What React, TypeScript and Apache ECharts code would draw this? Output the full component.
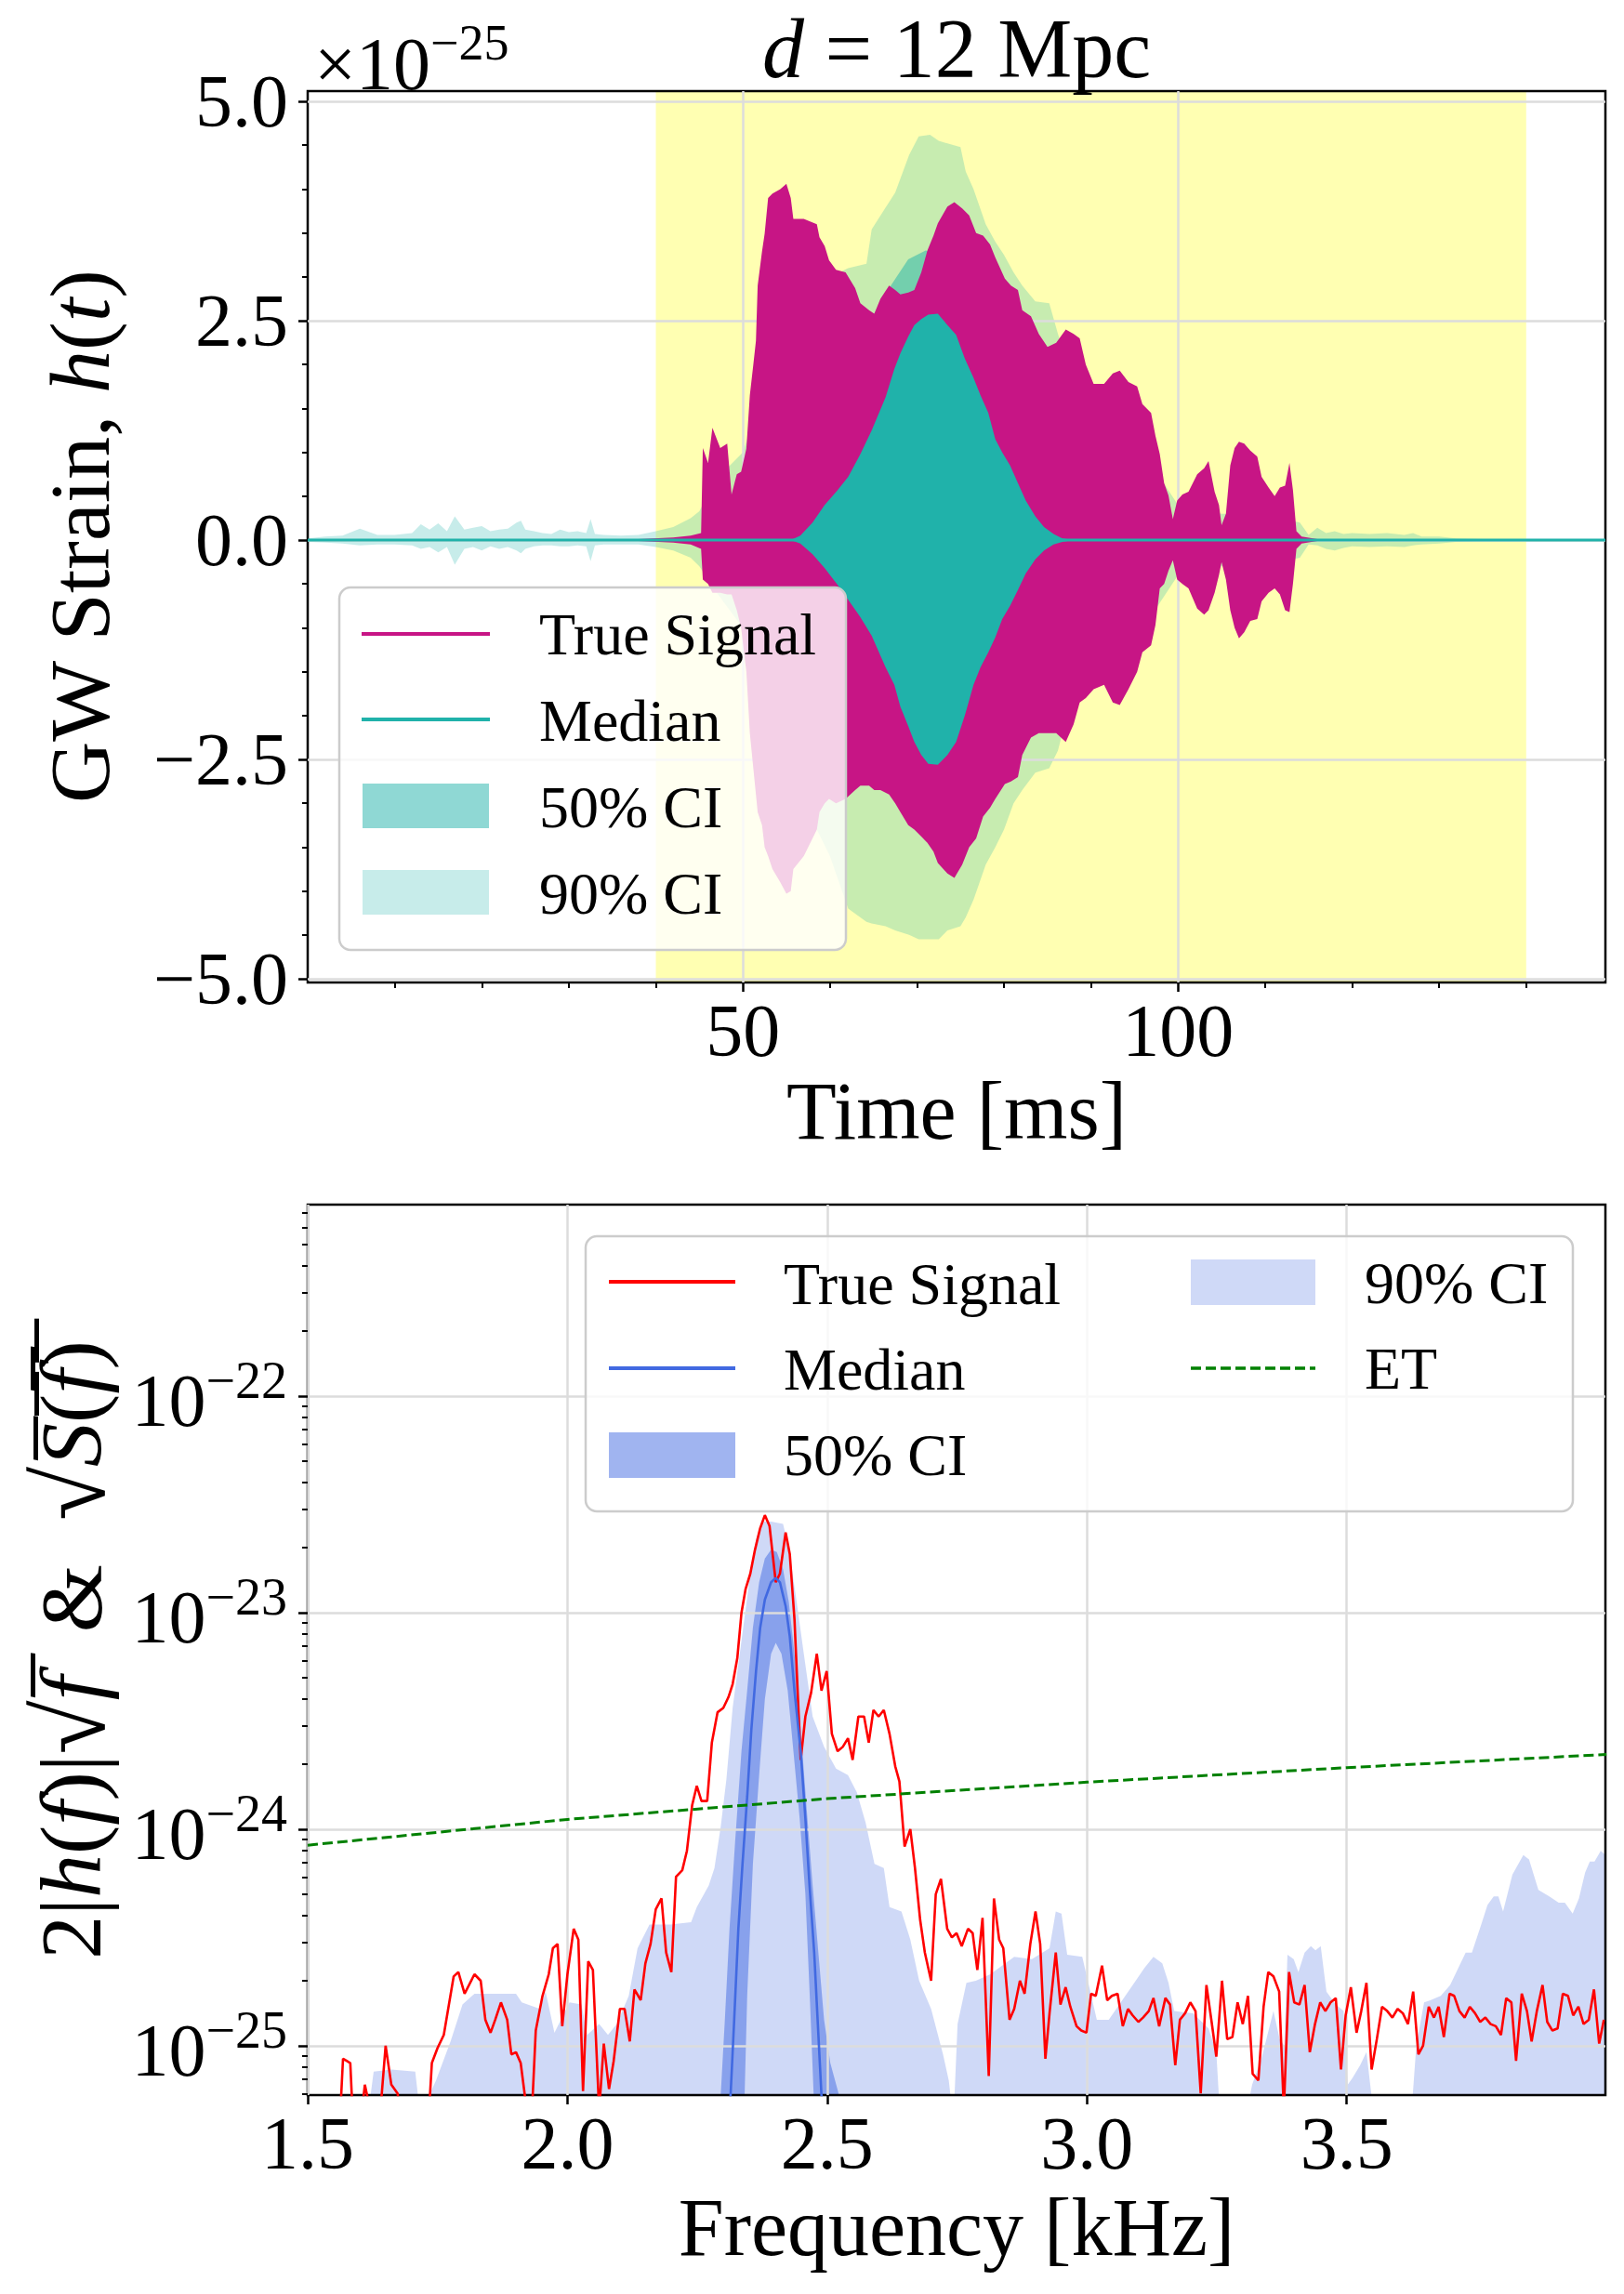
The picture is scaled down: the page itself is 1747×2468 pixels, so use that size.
import React, { useEffect, useRef } from 'react';
import * as echarts from 'echarts';

// ================= TOP PANEL: GW strain h(t), units of 1e-25 =================
const T_RANGE = [0, 149.1];
const STRAIN_RANGE = [-5.042, 5.117];
const T_TICKS = [50, 100];
const T_MINOR = [10, 20, 30, 40, 60, 70, 80, 90, 110, 120, 130, 140];
const H_TICKS = [-5, -2.5, 0, 2.5, 5];
const H_MINOR = [-4.5, -4, -3.5, -3, -2, -1.5, -1, -0.5, 0.5, 1, 1.5, 2, 3, 3.5, 4, 4.5];
const HIGHLIGHT_SPAN = [40, 140];

// [time ms, upper envelope, lower envelope]
const TRUE_SIGNAL_ENV = [
  [38, 0.01, -0.01], [42, 0.03, -0.03], [44, 0.05, -0.05], [45.2, 0.08, -0.1],
  [45.4, 1.05, -0.45], [46.0, 0.88, -0.5], [46.5, 1.28, -0.6], [47.4, 1.05, -0.6],
  [48.2, 1.1, -0.62], [48.7, 0.52, -0.62], [49.3, 0.75, -0.8], [49.8, 0.78, -1.0],
  [50.4, 1.04, -1.5], [50.8, 1.65, -2.2], [51.2, 2.0, -2.6], [51.5, 2.27, -2.9],
  [51.7, 2.9, -3.1], [52.2, 3.29, -3.25], [52.5, 3.49, -3.5], [52.9, 3.9, -3.6],
  [53.4, 3.95, -3.75], [54.3, 4.0, -3.9], [55.0, 4.06, -4.03], [55.5, 3.9, -4.0],
  [55.8, 3.66, -3.75], [57.0, 3.66, -3.6], [58.5, 3.6, -3.3], [58.8, 3.45, -3.1],
  [59.4, 3.35, -3.0], [59.9, 3.19, -2.95], [60.7, 3.08, -3.0], [61.8, 3.05, -2.95],
  [62.9, 2.87, -2.85], [63.5, 2.7, -2.8], [64.5, 2.62, -2.8], [65.1, 2.58, -2.85],
  [65.8, 2.75, -2.85], [66.8, 2.9, -2.9], [67.5, 2.85, -3.0], [68.1, 2.8, -3.1],
  [69.0, 2.82, -3.25], [69.7, 2.85, -3.3], [70.5, 3.05, -3.38], [71.2, 3.3, -3.45],
  [71.9, 3.47, -3.55], [72.4, 3.61, -3.68], [73.5, 3.8, -3.8], [74.3, 3.85, -3.85],
  [75.2, 3.78, -3.7], [76.0, 3.7, -3.5], [76.8, 3.5, -3.4], [77.6, 3.47, -3.15],
  [78.4, 3.37, -3.05], [79.0, 3.22, -2.95], [80.1, 2.98, -2.78], [80.8, 2.9, -2.75],
  [81.6, 2.85, -2.7], [82.1, 2.62, -2.45], [83.1, 2.55, -2.25], [84.0, 2.35, -2.2],
  [85.0, 2.2, -2.2], [86.0, 2.25, -2.2], [87.1, 2.4, -2.3], [88.0, 2.35, -2.1],
  [88.7, 2.3, -1.85], [89.4, 2.0, -1.8], [90.3, 1.78, -1.7], [91.5, 1.78, -1.65],
  [92.5, 1.9, -1.85], [93.3, 1.93, -1.88], [94.3, 1.8, -1.7], [95.3, 1.75, -1.5],
  [95.9, 1.55, -1.28], [96.9, 1.45, -1.2], [97.4, 1.19, -0.97], [97.9, 0.98, -0.55],
  [98.4, 0.65, -0.5], [98.9, 0.51, -0.35], [99.4, 0.24, -0.23], [99.9, 0.45, -0.45],
  [100.5, 0.52, -0.5], [101.2, 0.55, -0.55], [102.2, 0.75, -0.78], [103.0, 0.82, -0.85],
  [103.5, 0.9, -0.8], [104.2, 0.55, -0.6], [104.7, 0.4, -0.4], [105.0, 0.17, -0.25],
  [105.5, 0.3, -0.45], [106.0, 0.85, -0.8], [106.5, 1.05, -1.0], [107.0, 1.12, -1.12],
  [107.6, 1.1, -1.05], [108.3, 1.02, -0.92], [109.1, 0.95, -0.9], [109.6, 0.72, -0.7],
  [110.4, 0.6, -0.6], [111.1, 0.5, -0.55], [111.7, 0.6, -0.62], [112.3, 0.62, -0.8],
  [112.8, 0.88, -0.82], [113.2, 0.57, -0.5], [113.6, 0.1, -0.1], [114.2, 0.04, -0.04],
  [116, 0.01, -0.01],
];

const MEDIAN_ENV = [
  [55.5, 0, 0], [56.6, 0.05, -0.04], [58.0, 0.2, -0.16], [59.4, 0.4, -0.32],
  [60.8, 0.56, -0.5], [62.1, 0.72, -0.68], [63.5, 0.98, -0.88], [64.8, 1.25, -1.09],
  [66.4, 1.63, -1.45], [67.4, 1.95, -1.65], [68.1, 2.13, -1.9], [69.0, 2.32, -2.12],
  [69.7, 2.45, -2.3], [70.5, 2.52, -2.45], [71.3, 2.57, -2.55], [72.4, 2.58, -2.56],
  [73.5, 2.45, -2.45], [74.5, 2.34, -2.3], [75.5, 2.07, -2.0], [76.5, 1.85, -1.65],
  [77.3, 1.65, -1.45], [78.2, 1.45, -1.28], [79.0, 1.15, -1.11], [79.8, 1.0, -0.9],
  [80.7, 0.85, -0.75], [81.6, 0.65, -0.57], [82.5, 0.45, -0.38], [83.6, 0.27, -0.22],
  [84.6, 0.15, -0.12], [85.7, 0.07, -0.05], [86.7, 0.02, -0.02], [88, 0, 0],
];

const CI50_ENV = [
  [45, 0.05, -0.05], [50, 0.3, -0.3], [55, 0.9, -0.9], [60, 1.7, -1.7], [64, 2.4, -2.4],
  [67, 2.9, -2.9], [69, 3.2, -3.2], [71, 3.3, -3.3], [73, 3.25, -3.25], [75, 3.0, -3.0],
  [77, 2.4, -2.4], [79, 1.8, -1.8], [81, 1.2, -1.2], [83, 0.7, -0.7], [85, 0.35, -0.35],
  [88, 0.1, -0.1], [95, 0.03, -0.03], [100, 0, 0],
];

const CI90_ENV = [
  [0, 0.02, -0.02], [2, 0.04, -0.03], [4, 0.05, -0.04], [6, 0.13, -0.06], [8, 0.06, -0.05],
  [10, 0.06, -0.05], [12, 0.08, -0.06], [13, 0.18, -0.1], [14, 0.12, -0.08], [15, 0.19, -0.14],
  [16, 0.1, -0.08], [16.9, 0.27, -0.28], [18, 0.12, -0.1], [19, 0.14, -0.08], [20, 0.16, -0.12],
  [21, 0.1, -0.07], [22, 0.12, -0.1], [23, 0.13, -0.08], [24, 0.2, -0.12], [24.5, 0.22, -0.15],
  [25, 0.12, -0.1], [26, 0.1, -0.07], [27, 0.08, -0.06], [28, 0.07, -0.06], [29, 0.12, -0.07],
  [30, 0.09, -0.07], [31, 0.1, -0.06], [32, 0.08, -0.07], [32.5, 0.24, -0.24], [33, 0.07, -0.06],
  [34, 0.06, -0.05], [36, 0.05, -0.05], [38, 0.06, -0.05], [40, 0.1, -0.08], [42, 0.15, -0.12],
  [44, 0.25, -0.2], [45, 0.33, -0.3], [47, 0.7, -0.6], [50, 1.0, -1.0], [52, 1.6, -1.6],
  [54, 2.2, -2.4], [56, 2.6, -3.0], [58, 2.9, -3.2], [60, 3.0, -3.6], [62.1, 3.1, -4.2],
  [64.2, 3.15, -4.35], [64.8, 3.54, -4.37], [66.4, 3.79, -4.4], [67.5, 3.96, -4.45],
  [69.1, 4.39, -4.5], [70.2, 4.6, -4.55], [71.5, 4.62, -4.55], [72.5, 4.55, -4.55],
  [73.5, 4.52, -4.45], [75.0, 4.48, -4.4], [75.6, 4.2, -4.3], [76.5, 4.0, -4.1],
  [77.9, 3.6, -3.7], [79.0, 3.4, -3.5], [80.0, 3.25, -3.3], [81.1, 3.05, -3.0],
  [82.1, 2.9, -2.85], [83.6, 2.72, -2.65], [85.2, 2.7, -2.6], [86.2, 2.35, -2.4],
  [88, 1.8, -1.7], [92, 1.5, -1.5], [96, 1.0, -1.0], [100, 0.4, -0.4], [105, 0.3, -0.3],
  [110, 0.3, -0.3], [114, 0.2, -0.2], [115, 0.06, -0.05], [116, 0.14, -0.06], [117, 0.08, -0.1],
  [118, 0.1, -0.12], [119, 0.07, -0.09], [120, 0.08, -0.07], [122, 0.07, -0.08], [124, 0.08, -0.07],
  [126, 0.06, -0.08], [127, 0.08, -0.06], [128, 0.04, -0.05], [130, 0.04, -0.04], [132, 0.02, -0.02],
  [135, 0.01, -0.01], [149.1, 0, 0],
];

const MEDIAN_BASELINE = [[0, 0], [149.1, 0]];

// ================= BOTTOM PANEL: amplitude spectra (log10 of amplitude) =================
const F_RANGE = [1.5, 3.998];
const F_TICKS = [1.5, 2.0, 2.5, 3.0, 3.5];
const ASD_LOG10_RANGE = [-25.228, -21.116];
const ASD_TICKS = [1e-25, 1e-24, 1e-23, 1e-22];
const ASD_MINOR = [
  6e-26, 7e-26, 8e-26, 9e-26,
  2e-25, 3e-25, 4e-25, 5e-25, 6e-25, 7e-25, 8e-25, 9e-25,
  2e-24, 3e-24, 4e-24, 5e-24, 6e-24, 7e-24, 8e-24, 9e-24,
  2e-23, 3e-23, 4e-23, 5e-23, 6e-23, 7e-23, 8e-23, 9e-23,
  2e-22, 3e-22, 4e-22, 5e-22, 6e-22, 7e-22,
];

// [frequency kHz, log10 amplitude]
const TRUE_ASD = [
  [1.500, -25.6], [1.520, -25.5], [1.540, -25.7], [1.555, -25.5], [1.563, -25.3],
  [1.568, -25.06], [1.575, -25.07], [1.582, -25.08], [1.590, -25.5], [1.600, -25.4],
  [1.610, -25.18], [1.625, -25.35], [1.640, -25.3], [1.650, -25.0], [1.661, -25.18],
  [1.673, -25.22], [1.690, -25.5], [1.710, -25.6], [1.730, -25.45], [1.739, -25.08],
  [1.750, -25.01], [1.762, -24.95], [1.781, -24.68], [1.790, -24.66], [1.802, -24.76],
  [1.821, -24.67], [1.833, -24.70], [1.842, -24.88], [1.852, -24.94], [1.861, -24.88],
  [1.872, -24.80], [1.884, -24.88], [1.892, -25.04], [1.901, -25.03], [1.910, -25.08],
  [1.918, -25.23], [1.926, -25.6], [1.939, -24.93], [1.952, -24.77], [1.964, -24.67],
  [1.972, -24.55], [1.981, -24.53], [1.990, -24.91], [2.000, -24.67], [2.012, -24.46],
  [2.021, -24.51], [2.030, -25.21], [2.040, -24.61], [2.049, -24.65], [2.061, -25.3],
  [2.070, -24.99], [2.080, -25.20], [2.089, -25.07], [2.101, -24.83], [2.110, -24.83],
  [2.120, -24.98], [2.129, -24.74], [2.141, -24.79], [2.150, -24.62], [2.160, -24.53],
  [2.170, -24.37], [2.181, -24.32], [2.190, -24.57], [2.200, -24.66], [2.209, -24.22],
  [2.221, -24.19], [2.230, -24.10], [2.240, -23.89], [2.249, -23.80], [2.258, -23.87],
  [2.269, -23.87], [2.278, -23.60], [2.289, -23.46], [2.300, -23.44], [2.310, -23.39],
  [2.318, -23.33], [2.327, -23.21], [2.335, -23.00], [2.343, -22.89], [2.352, -22.82],
  [2.361, -22.71], [2.371, -22.61], [2.380, -22.55], [2.389, -22.60], [2.401, -22.86],
  [2.409, -22.82], [2.420, -22.63], [2.428, -22.73], [2.437, -23.03], [2.449, -23.68],
  [2.458, -23.48], [2.469, -23.37], [2.480, -23.19], [2.489, -23.36], [2.499, -23.27],
  [2.509, -23.56], [2.520, -23.64], [2.530, -23.62], [2.540, -23.58], [2.549, -23.68],
  [2.560, -23.48], [2.571, -23.48], [2.580, -23.60], [2.589, -23.45], [2.599, -23.48],
  [2.609, -23.45], [2.620, -23.56], [2.631, -23.71], [2.639, -23.78], [2.649, -24.08],
  [2.660, -24.00], [2.669, -24.18], [2.679, -24.42], [2.688, -24.57], [2.700, -24.70],
  [2.709, -24.30], [2.719, -24.23], [2.731, -24.46], [2.740, -24.50], [2.749, -24.48],
  [2.759, -24.54], [2.771, -24.46], [2.780, -24.48], [2.789, -24.65], [2.799, -24.41],
  [2.811, -25.14], [2.821, -24.32], [2.831, -24.51], [2.839, -24.55], [2.851, -24.88],
  [2.860, -24.83], [2.871, -24.70], [2.880, -24.76], [2.891, -24.53], [2.901, -24.38],
  [2.910, -24.53], [2.920, -25.06], [2.928, -24.85], [2.940, -24.57], [2.949, -24.81],
  [2.959, -24.73], [2.968, -24.82], [2.980, -24.91], [2.989, -24.93], [2.999, -24.94],
  [3.008, -24.76], [3.017, -24.77], [3.029, -24.63], [3.039, -24.79], [3.048, -24.77],
  [3.059, -24.76], [3.069, -24.91], [3.079, -24.83], [3.088, -24.86], [3.099, -24.89],
  [3.108, -24.87], [3.119, -24.84], [3.128, -24.78], [3.139, -24.91], [3.151, -24.78],
  [3.160, -24.81], [3.170, -25.09], [3.179, -24.88], [3.189, -24.85], [3.199, -24.80],
  [3.209, -24.84], [3.219, -25.22], [3.230, -24.72], [3.240, -24.89], [3.249, -25.05],
  [3.260, -24.70], [3.270, -24.97], [3.280, -24.96], [3.290, -24.80], [3.300, -24.90],
  [3.310, -24.77], [3.319, -25.13], [3.330, -25.16], [3.340, -24.82], [3.349, -24.66],
  [3.359, -24.68], [3.370, -24.75], [3.379, -25.3], [3.389, -24.66], [3.399, -24.80],
  [3.409, -24.81], [3.419, -24.72], [3.429, -25.03], [3.439, -24.90], [3.449, -24.80],
  [3.459, -24.84], [3.469, -24.80], [3.479, -24.78], [3.489, -25.11], [3.498, -24.86],
  [3.508, -24.73], [3.519, -24.94], [3.528, -24.84], [3.538, -24.71], [3.548, -25.11],
  [3.558, -24.97], [3.568, -24.82], [3.578, -24.84], [3.588, -24.87], [3.598, -24.83],
  [3.608, -24.85], [3.618, -24.90], [3.628, -24.75], [3.638, -25.04], [3.647, -25.00],
  [3.658, -24.82], [3.668, -24.87], [3.677, -24.82], [3.687, -24.96], [3.698, -24.76],
  [3.707, -24.77], [3.717, -24.84], [3.727, -24.87], [3.737, -24.82], [3.747, -24.85],
  [3.757, -24.89], [3.767, -24.87], [3.777, -24.90], [3.787, -24.91], [3.797, -24.95],
  [3.807, -24.78], [3.817, -24.80], [3.826, -25.07], [3.837, -24.76], [3.847, -24.84],
  [3.856, -24.98], [3.866, -24.84], [3.877, -24.72], [3.886, -24.89], [3.896, -24.93],
  [3.906, -24.92], [3.916, -24.76], [3.926, -24.77], [3.936, -24.86], [3.946, -24.82],
  [3.956, -24.90], [3.966, -24.88], [3.976, -24.74], [3.986, -24.99], [3.995, -24.88],
];

const MEDIAN_ASD = [
  [2.300, -25.6], [2.314, -25.23], [2.321, -24.88], [2.329, -24.46], [2.337, -24.16],
  [2.346, -23.85], [2.354, -23.54], [2.363, -23.27], [2.371, -23.07], [2.380, -22.94],
  [2.392, -22.86], [2.401, -22.84], [2.409, -22.86], [2.420, -22.97], [2.428, -23.11],
  [2.437, -23.36], [2.449, -23.64], [2.458, -23.95], [2.466, -24.26], [2.475, -24.57],
  [2.482, -24.9], [2.489, -25.23], [2.500, -25.6],
];

const CI50_ASD_UPPER = [
  [2.289, -25.5], [2.295, -25.23], [2.303, -24.88], [2.312, -24.46], [2.323, -24.05],
  [2.335, -23.64], [2.346, -23.36], [2.357, -23.07], [2.369, -22.86], [2.380, -22.75],
  [2.392, -22.71], [2.403, -22.72], [2.415, -22.80], [2.426, -22.95], [2.437, -23.19],
  [2.449, -23.54], [2.460, -23.89], [2.472, -24.26], [2.483, -24.57], [2.494, -24.88],
  [2.506, -25.08], [2.523, -25.23], [2.529, -25.5],
];

const CI50_ASD_LOWER = [
  [2.335, -25.5], [2.341, -25.23], [2.346, -24.77], [2.357, -24.16], [2.369, -23.75],
  [2.380, -23.40], [2.392, -23.19], [2.401, -23.14], [2.412, -23.19], [2.424, -23.36],
  [2.435, -23.64], [2.447, -23.95], [2.458, -24.3], [2.467, -24.8], [2.474, -25.23],
  [2.480, -25.5],
];

const CI90_ASD_UPPER = [
  [1.500, -25.6], [1.615, -25.5], [1.621, -25.23], [1.627, -25.12], [1.661, -25.11],
  [1.707, -25.12], [1.718, -25.35], [1.730, -25.25], [1.747, -25.16], [1.775, -24.98],
  [1.798, -24.81], [1.821, -24.76], [1.901, -24.76], [1.912, -24.80], [1.947, -24.83],
  [1.958, -24.75], [1.975, -24.94], [2.004, -24.80], [2.027, -24.81], [2.038, -24.95],
  [2.061, -24.90], [2.078, -24.95], [2.095, -24.90], [2.118, -24.77], [2.135, -24.55],
  [2.158, -24.44], [2.198, -24.44], [2.238, -24.43], [2.249, -24.36], [2.272, -24.26],
  [2.283, -24.18], [2.295, -23.99], [2.306, -23.77], [2.318, -23.44], [2.335, -23.13],
  [2.352, -22.82], [2.363, -22.66], [2.375, -22.58], [2.392, -22.58], [2.415, -22.59],
  [2.426, -22.70], [2.440, -22.93], [2.455, -23.19], [2.472, -23.48], [2.494, -23.62],
  [2.517, -23.72], [2.540, -23.75], [2.557, -23.83], [2.574, -23.97], [2.591, -24.16],
  [2.609, -24.18], [2.620, -24.36], [2.643, -24.38], [2.660, -24.51], [2.677, -24.70],
  [2.700, -24.83], [2.723, -25.04], [2.734, -25.16], [2.743, -25.35], [2.751, -24.90],
  [2.768, -24.71], [2.786, -24.70], [2.814, -24.67], [2.860, -24.59], [2.894, -24.60],
  [2.928, -24.55], [2.940, -24.38], [2.951, -24.39], [2.962, -24.58], [2.991, -24.59],
  [3.019, -24.88], [3.042, -24.88], [3.088, -24.72], [3.111, -24.64], [3.128, -24.59],
  [3.145, -24.62], [3.157, -24.71], [3.168, -24.84], [3.204, -24.85], [3.234, -24.92],
  [3.249, -25.03], [3.258, -25.4], [3.300, -25.4], [3.318, -25.18], [3.336, -25.06],
  [3.359, -24.84], [3.371, -24.97], [3.380, -25.0], [3.386, -24.58], [3.398, -24.60],
  [3.407, -24.66], [3.419, -24.57], [3.431, -24.54], [3.440, -24.56], [3.450, -24.54],
  [3.461, -24.75], [3.479, -24.81], [3.494, -24.84], [3.502, -25.18], [3.511, -25.15],
  [3.526, -25.09], [3.538, -25.03], [3.556, -25.4], [3.622, -25.4], [3.634, -25.0],
  [3.649, -24.80], [3.661, -24.79], [3.681, -24.77], [3.699, -24.72], [3.717, -24.63],
  [3.729, -24.57], [3.741, -24.57], [3.759, -24.44], [3.771, -24.35], [3.783, -24.31],
  [3.792, -24.31], [3.801, -24.38], [3.819, -24.21], [3.840, -24.12], [3.851, -24.14],
  [3.869, -24.28], [3.890, -24.31], [3.908, -24.34], [3.920, -24.34], [3.935, -24.39],
  [3.947, -24.32], [3.959, -24.20], [3.968, -24.15], [3.977, -24.15], [3.989, -24.10],
  [3.998, -24.12],
];
const CI90_ASD_FLOOR = -26;

const ET_ASD = [
  [1.5, -24.074], [2.0, -23.955], [2.5, -23.859], [3.0, -23.783], [3.5, -23.716], [4.0, -23.655],
];

// ================= styling =================
const FONT = "'Liberation Serif', 'Times New Roman', serif";
const GRID_COLOR = '#dcdcdc';
const C_TRUE_TOP = '#c71585';
const C_MED_TOP = '#20b2aa';
const C_CI50_TOP = 'rgba(32,178,170,0.5)';
const C_CI90_TOP = 'rgba(32,178,170,0.25)';
const C_YELLOW = 'rgba(255,255,0,0.3)';
const C_TRUE_BOT = '#ff0000';
const C_MED_BOT = '#4169e1';
const C_CI50_BOT = 'rgba(65,105,225,0.5)';
const C_CI90_BOT = 'rgba(65,105,225,0.25)';
const C_ET = '#008000';

function polygonSeries(upper: number[][], lower: number[][], fill: string, z: number, axis: number) {
  return {
    type: 'custom',
    xAxisIndex: axis,
    yAxisIndex: axis,
    z,
    clip: true,
    silent: true,
    data: [upper[0]],
    encode: { x: 0, y: 1 },
    renderItem: (_p: any, api: any) => {
      const pts = upper.map((p) => api.coord(p));
      for (let i = lower.length - 1; i >= 0; i--) pts.push(api.coord(lower[i]));
      return { type: 'polygon', shape: { points: pts }, style: { fill } };
    },
  };
}

function envSeries(env: number[][], fill: string, z: number) {
  return polygonSeries(
    env.map((r) => [r[0], r[1]]),
    env.map((r) => [r[0], r[2]]),
    fill,
    z,
    0
  );
}

const tickLabel = { fontSize: 80, color: '#000', fontFamily: FONT };
const nameStyle = { fontSize: 88, color: '#000', fontFamily: FONT };

function minorAxis(gridIndex: number, min: number, max: number, values: number[], position: string) {
  return {
    gridIndex,
    type: 'value',
    min,
    max,
    position,
    axisLine: { show: false, onZero: false },
    axisTick: { show: true, length: 6, lineStyle: { color: '#000', width: 2 }, customValues: values },
    axisLabel: { show: false },
    splitLine: { show: false },
  };
}

function lineSeries(data: number[][], color: string, width: number, z: number, type: any = 'solid') {
  return {
    type: 'line', xAxisIndex: 2, yAxisIndex: 2, z, data, showSymbol: false, symbol: 'none',
    lineStyle: { color, width, type }, clip: true, silent: true,
  };
}

function buildOption() {
  const asdTicks = ASD_TICKS.map((v) => Math.log10(v));
  const asdMinor = ASD_MINOR.map((v) => Math.log10(v));
  const gridBase = { show: true, borderColor: '#000', borderWidth: 2.5, backgroundColor: 'transparent', containLabel: false, outerBoundsMode: 'none' };
  return {
    animation: false,
    backgroundColor: '#ffffff',
    textStyle: { fontFamily: FONT },
    grid: [
      { ...gridBase, left: 331, top: 98, width: 1396, height: 959 },
      { ...gridBase, left: 331, top: 1296, width: 1396, height: 958 },
    ],
    xAxis: [
      {
        gridIndex: 0, type: 'value', min: T_RANGE[0], max: T_RANGE[1], position: 'bottom',
        axisLine: { show: false, onZero: false },
        axisTick: { show: true, length: 10, lineStyle: { color: '#000', width: 2.5 }, customValues: T_TICKS },
        axisLabel: { ...tickLabel, margin: 12, customValues: T_TICKS, formatter: (v: number) => String(Math.round(v)) },
        splitLine: { show: true, lineStyle: { color: GRID_COLOR, width: 2.5 } },
        name: 'Time [ms]', nameLocation: 'middle', nameGap: 94, nameTextStyle: nameStyle,
      },
      minorAxis(0, T_RANGE[0], T_RANGE[1], T_MINOR, 'bottom'),
      {
        gridIndex: 1, type: 'value', min: F_RANGE[0], max: F_RANGE[1], position: 'bottom',
        axisLine: { show: false, onZero: false },
        axisTick: { show: true, length: 10, lineStyle: { color: '#000', width: 2.5 }, customValues: F_TICKS },
        axisLabel: { ...tickLabel, margin: 12, customValues: F_TICKS, formatter: (v: number) => v.toFixed(1) },
        splitLine: { show: true, lineStyle: { color: GRID_COLOR, width: 2.5 } },
        name: 'Frequency [kHz]', nameLocation: 'middle', nameGap: 98, nameTextStyle: nameStyle,
      },
    ],
    yAxis: [
      {
        gridIndex: 0, type: 'value', min: STRAIN_RANGE[0], max: STRAIN_RANGE[1], position: 'left',
        axisLine: { show: false, onZero: false },
        axisTick: { show: true, length: 10, lineStyle: { color: '#000', width: 2.5 }, customValues: H_TICKS },
        axisLabel: {
          ...tickLabel, margin: 21, customValues: H_TICKS,
          formatter: (v: number) => (v < -1e-9 ? '\u2212' : '') + Math.abs(v).toFixed(1),
        },
        splitLine: { show: true, lineStyle: { color: GRID_COLOR, width: 2.5 } },
        name: '{r|GW Strain, }{i|h}{r|(}{i|t}{r|)}',
        nameLocation: 'middle', nameGap: 199,
        nameTextStyle: {
          fontSize: 92, color: '#000', fontFamily: FONT,
          rich: {
            r: { fontSize: 92, fontFamily: FONT, color: '#000' },
            i: { fontSize: 92, fontFamily: FONT, fontStyle: 'italic', color: '#000' },
          },
        },
      },
      minorAxis(0, STRAIN_RANGE[0], STRAIN_RANGE[1], H_MINOR, 'left'),
      {
        gridIndex: 1, type: 'value', min: ASD_LOG10_RANGE[0], max: ASD_LOG10_RANGE[1], position: 'left',
        axisLine: { show: false, onZero: false },
        axisTick: { show: true, length: 10, lineStyle: { color: '#000', width: 2.5 }, customValues: asdTicks },
        axisLabel: {
          color: '#000', fontFamily: FONT, margin: 22, customValues: asdTicks,
          formatter: (v: number) => '{b|10}{s|\u2212' + Math.round(-v) + '}',
          rich: {
            b: { fontSize: 80, lineHeight: 90, verticalAlign: 'bottom', fontFamily: FONT, color: '#000' },
            s: { fontSize: 56, lineHeight: 44, verticalAlign: 'top', fontFamily: FONT, color: '#000' },
          },
        },
        splitLine: { show: true, lineStyle: { color: GRID_COLOR, width: 2.5 } },
        name: '{r|2|}{i|h}{r|(}{i|f}{r|)|}{q|\u221a}{i|f\u0305}{r|  &  }{q|\u221a}{i|S\u0305}{r|(\u0305}{i|f\u0305}{r|)\u0305}',
        nameLocation: 'middle', nameGap: 208,
        nameTextStyle: {
          fontSize: 94, lineHeight: 94, color: '#000', fontFamily: FONT,
          rich: {
            r: { fontSize: 94, lineHeight: 94, fontFamily: FONT, color: '#000' },
            i: { fontSize: 94, lineHeight: 94, fontFamily: FONT, fontStyle: 'italic', color: '#000' },
            q: { fontSize: 106, lineHeight: 94, fontFamily: FONT, color: '#000' },
          },
        },
      },
      minorAxis(1, ASD_LOG10_RANGE[0], ASD_LOG10_RANGE[1], asdMinor, 'left'),
    ],
    series: [
      // ---- top panel ----
      {
        type: 'custom', xAxisIndex: 0, yAxisIndex: 0, z: -3, clip: true, silent: true,
        data: [[HIGHLIGHT_SPAN[0], 0]], encode: { x: 0, y: 1 },
        renderItem: (_p: any, api: any) => {
          const a = api.coord([HIGHLIGHT_SPAN[0], STRAIN_RANGE[1]]);
          const b = api.coord([HIGHLIGHT_SPAN[1], STRAIN_RANGE[0]]);
          return { type: 'rect', shape: { x: a[0], y: a[1], width: b[0] - a[0], height: b[1] - a[1] }, style: { fill: C_YELLOW } };
        },
      },
      envSeries(CI90_ENV, C_CI90_TOP, -2),
      envSeries(CI50_ENV, C_CI50_TOP, -1),
      envSeries(TRUE_SIGNAL_ENV, C_TRUE_TOP, 2),
      envSeries(MEDIAN_ENV, C_MED_TOP, 3),
      {
        type: 'line', xAxisIndex: 0, yAxisIndex: 0, z: 3, data: MEDIAN_BASELINE, showSymbol: false, symbol: 'none',
        lineStyle: { color: C_MED_TOP, width: 3 }, silent: true,
      },
      // ---- bottom panel ----
      polygonSeries(
        CI90_ASD_UPPER,
        [[CI90_ASD_UPPER[0][0], CI90_ASD_FLOOR], [CI90_ASD_UPPER[CI90_ASD_UPPER.length - 1][0], CI90_ASD_FLOOR]],
        C_CI90_BOT, -2, 2
      ),
      polygonSeries(CI50_ASD_UPPER, CI50_ASD_LOWER, C_CI50_BOT, -1, 2),
      lineSeries(TRUE_ASD, C_TRUE_BOT, 2.6, 2),
      lineSeries(MEDIAN_ASD, C_MED_BOT, 2.6, 3),
      lineSeries(ET_ASD, C_ET, 3, 4, [11, 5]),
    ],
    graphic: {
      elements: [
        // title & offset text
        {
          type: 'text', x: 1029, y: 52, z: 50,
          style: {
            text: '{i|d}{r| = 12 Mpc}', align: 'center', verticalAlign: 'middle',
            rich: {
              i: { fontSize: 90, fontFamily: FONT, fontStyle: 'italic', fill: '#000' },
              r: { fontSize: 90, fontFamily: FONT, fill: '#000' },
            },
          },
        },
        {
          type: 'text', x: 338, y: 64, z: 50,
          style: {
            text: '{b|\u00d710}{s|\u221225}', align: 'left', verticalAlign: 'middle',
            rich: {
              b: { fontSize: 80, lineHeight: 90, verticalAlign: 'bottom', fontFamily: FONT, fill: '#000' },
              s: { fontSize: 54, lineHeight: 52, verticalAlign: 'top', fontFamily: FONT, fill: '#000' },
            },
          },
        },
        // top legend
        { type: 'rect', z: 100, shape: { x: 365, y: 632, width: 545, height: 390, r: 12 }, style: { fill: 'rgba(255,255,255,0.8)', stroke: '#cccccc', lineWidth: 2.5 } },
        { type: 'line', z: 101, shape: { x1: 389, y1: 682, x2: 527, y2: 682 }, style: { stroke: C_TRUE_TOP, lineWidth: 4 } },
        { type: 'line', z: 101, shape: { x1: 389, y1: 774, x2: 527, y2: 774 }, style: { stroke: C_MED_TOP, lineWidth: 4 } },
        { type: 'rect', z: 101, shape: { x: 390, y: 843, width: 136, height: 48 }, style: { fill: C_CI50_TOP } },
        { type: 'rect', z: 101, shape: { x: 390, y: 936, width: 136, height: 48 }, style: { fill: C_CI90_TOP } },
        { type: 'text', z: 101, x: 580, y: 682, style: { text: 'True Signal', fontSize: 64, fontFamily: FONT, fill: '#000', verticalAlign: 'middle' } },
        { type: 'text', z: 101, x: 580, y: 775, style: { text: 'Median', fontSize: 64, fontFamily: FONT, fill: '#000', verticalAlign: 'middle' } },
        { type: 'text', z: 101, x: 580, y: 868, style: { text: '50% CI', fontSize: 64, fontFamily: FONT, fill: '#000', verticalAlign: 'middle' } },
        { type: 'text', z: 101, x: 580, y: 961, style: { text: '90% CI', fontSize: 64, fontFamily: FONT, fill: '#000', verticalAlign: 'middle' } },
        // bottom legend
        { type: 'rect', z: 100, shape: { x: 630, y: 1330, width: 1062, height: 296, r: 12 }, style: { fill: 'rgba(255,255,255,0.8)', stroke: '#cccccc', lineWidth: 2.5 } },
        { type: 'line', z: 101, shape: { x1: 655, y1: 1379, x2: 791, y2: 1379 }, style: { stroke: C_TRUE_BOT, lineWidth: 4 } },
        { type: 'line', z: 101, shape: { x1: 655, y1: 1472, x2: 791, y2: 1472 }, style: { stroke: C_MED_BOT, lineWidth: 4 } },
        { type: 'rect', z: 101, shape: { x: 655, y: 1541, width: 136, height: 49 }, style: { fill: C_CI50_BOT } },
        { type: 'rect', z: 101, shape: { x: 1281, y: 1355, width: 134, height: 49 }, style: { fill: C_CI90_BOT } },
        { type: 'line', z: 101, shape: { x1: 1281, y1: 1472, x2: 1415, y2: 1472 }, style: { stroke: C_ET, lineWidth: 3.5, lineDash: [11, 5] } },
        { type: 'text', z: 101, x: 843, y: 1381, style: { text: 'True Signal', fontSize: 64, fontFamily: FONT, fill: '#000', verticalAlign: 'middle' } },
        { type: 'text', z: 101, x: 843, y: 1473, style: { text: 'Median', fontSize: 64, fontFamily: FONT, fill: '#000', verticalAlign: 'middle' } },
        { type: 'text', z: 101, x: 843, y: 1565, style: { text: '50% CI', fontSize: 64, fontFamily: FONT, fill: '#000', verticalAlign: 'middle' } },
        { type: 'text', z: 101, x: 1468, y: 1380, style: { text: '90% CI', fontSize: 64, fontFamily: FONT, fill: '#000', verticalAlign: 'middle' } },
        { type: 'text', z: 101, x: 1468, y: 1472, style: { text: 'ET', fontSize: 64, fontFamily: FONT, fill: '#000', verticalAlign: 'middle' } },
      ],
    },
  };
}

export default function App() {
  const ref = useRef<HTMLDivElement>(null);
  useEffect(() => {
    if (!ref.current) return;
    const chart = echarts.init(ref.current, undefined, { renderer: 'svg' });
    chart.setOption(buildOption() as any);
    return () => chart.dispose();
  }, []);
  return (
    <div
      ref={ref}
      style={{ position: 'absolute', left: 0, top: 0, width: 1747, height: 2468, background: '#fff' }}
    />
  );
}
